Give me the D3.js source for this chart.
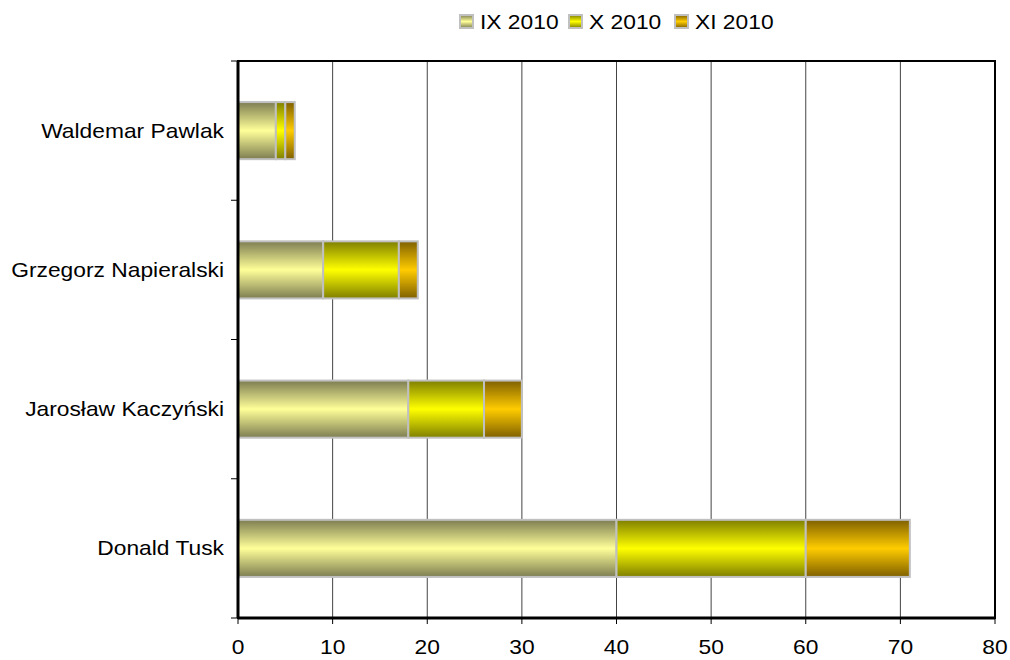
<!DOCTYPE html>
<html><head><meta charset="utf-8">
<script src="https://cdn.jsdelivr.net/npm/d3@7"></script>
<style>body{margin:0;background:#fff}text{font-family:Arial,"Liberation Sans",sans-serif;fill:#000}</style>
</head><body><svg id="c" width="1010" height="660"></svg>
<script>
const categories = ["Waldemar Pawlak","Grzegorz Napieralski","Jarosław Kaczyński","Donald Tusk"];
const seriesNames = ["IX 2010","X 2010","XI 2010"];
const sepValues = [4,9,18,40];
const octValues = [1,8,8,20];
const novValues = [1,2,4,11];
const xTicks = [0,10,20,30,40,50,60,70,80];
const seriesColors = [["#7d7d52","#ffff99"],["#7f7f00","#ffff00"],["#7f6000","#ffcc00"]];

const svg = d3.select("#c");
const m = {l:238, r:995, t:61, b:618};
const SX = 1.14, FS = 20;
const x = d3.scaleLinear().domain([0,80]).range([m.l,m.r]);
const y = d3.scaleBand().domain(categories).range([m.t,m.b]).paddingInner(0.59).paddingOuter(0.295);

const defs = svg.append("defs");
seriesColors.forEach((c,i)=>{
  const g = defs.append("linearGradient").attr("id","g"+i).attr("x1",0).attr("y1",0).attr("x2",0).attr("y2",1);
  g.append("stop").attr("offset","0%").attr("stop-color",c[0]);
  g.append("stop").attr("offset","50%").attr("stop-color",c[1]);
  g.append("stop").attr("offset","100%").attr("stop-color",c[0]);
});

// gridlines
svg.append("g").selectAll("line").data(xTicks.slice(1,-1)).join("line")
  .attr("x1",d=>x(d)).attr("x2",d=>x(d)).attr("y1",m.t).attr("y2",m.b)
  .attr("stroke","#444").attr("stroke-width",1);

// bars
const series = [sepValues,octValues,novValues];
const rows = categories.map((c,i)=>{let s=0;return series.map((v,k)=>{const r={cat:c,k,x0:s,x1:s+v[i]};s+=v[i];return r;});}).flat();
svg.append("g").selectAll("rect").data(rows).join("rect")
  .attr("x",d=>x(d.x0)).attr("width",d=>x(d.x1)-x(d.x0))
  .attr("y",d=>y(d.cat)).attr("height",y.bandwidth())
  .attr("fill",d=>`url(#g${d.k})`).attr("stroke","#c0c0c0").attr("stroke-width",2);

// frame
svg.append("rect").attr("x",m.l).attr("y",m.t).attr("width",m.r-m.l).attr("height",m.b-m.t)
  .attr("fill","none").attr("stroke","#000").attr("stroke-width",2);
svg.append("line").attr("x1",m.l).attr("x2",m.l).attr("y1",m.t).attr("y2",m.b).attr("stroke","#000").attr("stroke-width",3);
svg.append("line").attr("x1",m.l).attr("x2",m.r).attr("y1",m.b).attr("y2",m.b).attr("stroke","#000").attr("stroke-width",3);

// y ticks at band boundaries
const bounds = categories.map(c=>y(c)-y.step()*y.paddingInner()/2).concat([m.b]);
svg.append("g").selectAll("line").data(bounds).join("line")
  .attr("x1",m.l-7).attr("x2",m.l).attr("y1",d=>d).attr("y2",d=>d).attr("stroke","#000").attr("stroke-width",1);
// x ticks
svg.append("g").selectAll("line").data(xTicks).join("line")
  .attr("x1",d=>x(d)).attr("x2",d=>x(d)).attr("y1",m.b).attr("y2",m.b+6).attr("stroke","#000").attr("stroke-width",1);

// labels
svg.append("g").selectAll("text").data(xTicks).join("text")
  .attr("transform",d=>`translate(${x(d)},654) scale(${SX},1)`).attr("text-anchor","middle")
  .attr("font-size",FS).text(d=>d);
svg.append("g").selectAll("text").data(categories).join("text")
  .attr("transform",d=>`translate(224,${y(d)+y.bandwidth()/2+7}) scale(${SX},1)`).attr("text-anchor","end")
  .attr("font-size",FS).text(d=>d);

// legend
const legX = [460,569,675];
const lg = svg.append("g").selectAll("g").data(seriesNames).join("g")
  .attr("transform",(d,i)=>`translate(${legX[i]},15)`);
lg.append("rect").attr("x",0).attr("y",0).attr("width",13).attr("height",13)
  .attr("fill",(d,i)=>`url(#g${i})`).attr("stroke","#c0c0c0").attr("stroke-width",2);
lg.append("text").attr("transform",`translate(20,14) scale(${SX},1)`).attr("font-size",FS).text(d=>d);
</script></body></html>
